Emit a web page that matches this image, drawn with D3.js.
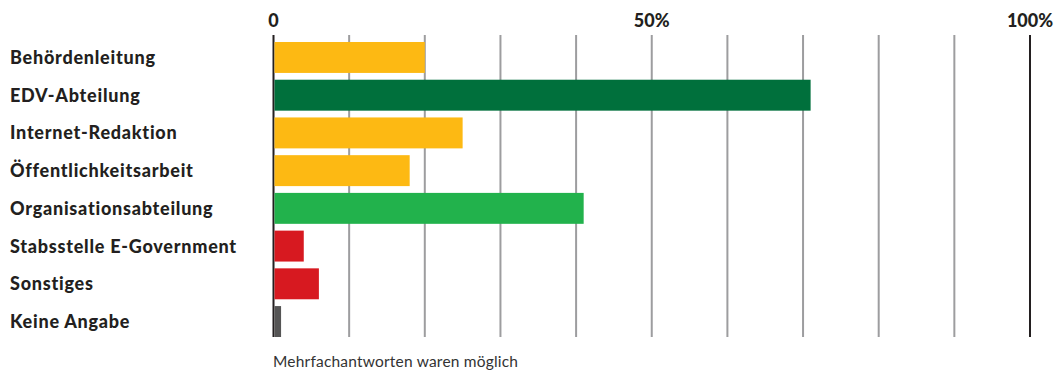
<!DOCTYPE html>
<html>
<head>
<meta charset="utf-8">
<script src="https://cdn.jsdelivr.net/npm/d3@7"></script>
<style>
  html, body { margin: 0; padding: 0; background: #fff; }
  svg { display: block; }
</style>
</head>
<body>
<svg id="chart" width="1056" height="372"></svg>
<script>
// Zuständigkeit für das Internetangebot (Mehrfachantworten)
const categories = [
  "Behördenleitung",
  "EDV-Abteilung",
  "Internet-Redaktion",
  "Öffentlichkeitsarbeit",
  "Organisationsabteilung",
  "Stabsstelle E-Government",
  "Sonstiges",
  "Keine Angabe"
];
const values = [20, 71, 25, 18, 41, 4, 6, 1];
const colors = ["#FDB913", "#00703C", "#FDB913", "#FDB913", "#22B24C", "#D71920", "#D71920", "#555555"];
const gridTicks = [0, 10, 20, 30, 40, 50, 60, 70, 80, 90, 100];
const tickLabels = [
  { value: 0, text: "0" },
  { value: 50, text: "50%" },
  { value: 100, text: "100%" }
];
const note = "Mehrfachantworten waren möglich";

const svg = d3.select("#chart");
const font = "'Lato', 'DejaVu Sans', sans-serif";

const x = d3.scaleLinear().domain([0, 100]).range([273.5, 1030]);
const y = d3.scaleBand().domain(categories).range([38.6, 340.4]).paddingInner(0.18).paddingOuter(0.09);

const gridTop = 35, gridBottom = 337;

// vertical grid lines
svg.append("g").selectAll("line")
  .data(gridTicks)
  .join("line")
  .attr("x1", d => x(d)).attr("x2", d => x(d))
  .attr("y1", gridTop).attr("y2", gridBottom)
  .attr("stroke", d => (d === 0 || d === 100) ? "#231f20" : "#9d9d9f")
  .attr("stroke-width", 2);

// bars
svg.append("g").selectAll("rect")
  .data(categories)
  .join("rect")
  .attr("x", x(0) + 1)
  .attr("y", d => y(d))
  .attr("width", (d, i) => x(values[i]) - x(0) - 1)
  .attr("height", y.bandwidth())
  .attr("fill", (d, i) => colors[i]);

// category labels
svg.append("g").selectAll("text")
  .data(categories)
  .join("text")
  .attr("x", 10)
  .attr("y", d => y(d) + y.bandwidth() / 2)
  .attr("dy", "0.36em")
  .attr("font-family", font)
  .attr("font-weight", 900)
  .attr("font-size", 18)
  .attr("letter-spacing", 0.75)
  .attr("fill", "#231f20")
  .text(d => d);

// top axis labels
svg.append("g").selectAll("text")
  .data(tickLabels)
  .join("text")
  .attr("x", d => x(d.value))
  .attr("y", 27)
  .attr("text-anchor", "middle")
  .attr("font-family", font)
  .attr("font-weight", 900)
  .attr("font-size", 18)
  .attr("fill", "#231f20")
  .text(d => d.text);

// footnote
svg.append("text")
  .attr("x", 273)
  .attr("y", 367)
  .attr("font-family", font)
  .attr("font-size", 15.5)
  .attr("letter-spacing", 0.2)
  .attr("fill", "#333")
  .text(note);
</script>
</body>
</html>
